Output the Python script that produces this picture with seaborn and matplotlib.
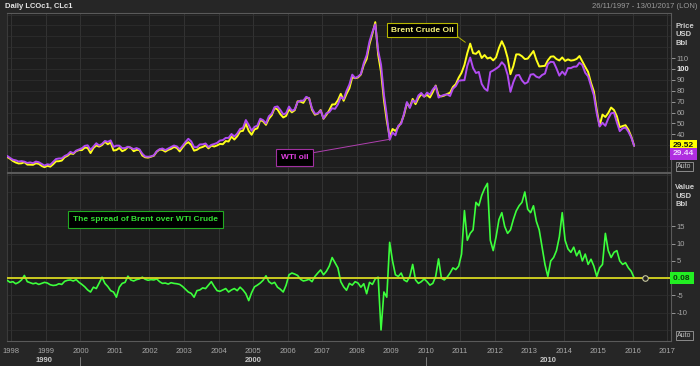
import numpy as np
import pandas as pd
import matplotlib
matplotlib.use("Agg")
import matplotlib.pyplot as plt
import matplotlib.transforms as mtransforms
from matplotlib.ticker import FixedLocator
import seaborn as sns

# ---------------- data (monthly, Nov 1997 .. Jan 2016) ----------------
start_month = "1997-11"

brent = [
    19.2, 17.6,
    15.5, 14.1, 13.2, 13.4, 14.4, 12.2, 12.1, 12.0, 13.4, 12.9, 11.0, 9.8,
    11.1, 10.3, 12.5, 15.2, 15.3, 15.9, 19.0, 20.3, 22.5, 22.0, 24.6, 25.5,
    25.5, 27.8, 27.5, 22.8, 27.4, 29.8, 28.7, 30.1, 33.1, 30.9, 32.5, 25.1,
    25.6, 27.5, 24.5, 25.7, 28.4, 27.7, 24.5, 25.7, 25.6, 20.5, 18.9, 18.6,
    19.4, 20.3, 24.0, 26.0, 25.7, 24.1, 25.7, 26.7, 28.4, 27.5, 24.3, 28.0,
    31.2, 32.8, 30.3, 25.0, 25.8, 27.6, 28.4, 29.8, 27.1, 29.6, 28.8, 29.8,
    31.2, 30.9, 33.8, 33.4, 37.9, 35.2, 38.2, 42.7, 43.2, 49.8, 43.1, 39.6,
    44.5, 45.5, 53.1, 51.9, 48.7, 54.3, 57.5, 64.1, 62.9, 58.5, 55.5, 56.9,
    63.0, 60.2, 62.1, 70.3, 70.0, 68.9, 73.7, 73.2, 62.5, 58.0, 58.9, 62.3,
    54.3, 57.8, 62.1, 67.4, 67.5, 71.3, 77.2, 70.8, 77.1, 82.3, 92.5, 91.5,
    92.2, 94.9, 103.6, 109.1, 122.8, 132.3, 143.0, 113.2, 97.2, 71.6, 52.5, 37.5,
    44.9, 43.1, 46.8, 50.8, 57.9, 68.6, 64.9, 72.5, 67.7, 73.2, 77.0, 74.7,
    76.2, 73.8, 78.8, 84.8, 75.9, 74.8, 75.6, 77.1, 78.2, 83.5, 86.1, 92.0,
    96.5, 103.7, 114.6, 123.3, 114.5, 113.9, 116.5, 110.1, 112.8, 109.6, 110.5, 107.9,
    110.7, 119.3, 125.5, 119.8, 110.3, 95.2, 102.6, 113.4, 113.4, 111.7, 109.1, 109.5,
    112.9, 116.5, 108.5, 102.3, 102.6, 102.9, 107.9, 111.3, 111.6, 109.1, 107.8, 110.6,
    107.4, 108.8, 107.7, 108.1, 109.2, 111.9, 106.9, 101.9, 97.3, 87.3, 79.4, 62.3,
    47.8, 58.1, 55.9, 59.5, 64.6, 62.3, 56.6, 46.5, 47.6, 48.4, 44.3, 38.0,
    29.5,
]

wti = [
    20.2, 18.3,
    16.7, 16.1, 15.0, 15.4, 14.9, 13.7, 14.2, 13.5, 15.0, 14.4, 12.9, 11.3,
    12.5, 12.0, 14.7, 17.3, 17.8, 17.9, 20.1, 21.3, 23.9, 22.6, 25.0, 26.1,
    27.2, 29.4, 29.9, 25.7, 28.8, 31.8, 29.7, 31.2, 33.9, 33.1, 34.4, 28.5,
    29.6, 29.6, 27.2, 27.4, 28.6, 27.6, 26.4, 27.4, 26.2, 22.2, 19.6, 19.4,
    19.7, 20.7, 24.4, 26.3, 27.0, 25.5, 26.9, 28.4, 29.7, 28.9, 26.3, 29.4,
    32.9, 35.9, 33.5, 28.2, 28.1, 30.7, 30.8, 31.6, 28.3, 30.3, 31.1, 32.1,
    34.3, 34.7, 36.7, 36.7, 40.3, 38.0, 40.7, 44.9, 45.9, 53.1, 48.5, 43.3,
    46.8, 48.0, 54.3, 53.0, 50.0, 56.6, 59.0, 65.0, 65.6, 62.3, 58.3, 59.4,
    65.5, 61.6, 62.9, 69.7, 70.9, 70.9, 74.4, 73.0, 63.8, 58.9, 59.1, 62.0,
    54.5, 59.3, 60.4, 63.9, 63.4, 67.5, 74.1, 72.4, 79.9, 85.8, 94.8, 91.7,
    93.0, 95.4, 105.5, 112.6, 125.4, 133.9, 141.0, 116.7, 104.1, 76.6, 57.3, 35.0,
    41.7, 39.1, 47.9, 49.7, 59.0, 69.6, 64.2, 71.1, 69.4, 75.7, 78.0, 74.5,
    78.3, 76.4, 81.2, 84.3, 73.7, 75.3, 76.3, 76.6, 75.2, 81.9, 84.3, 89.2,
    89.6, 89.7, 102.9, 110.5, 100.9, 96.3, 97.3, 86.3, 82.0, 80.0, 97.2, 98.6,
    100.3, 102.2, 106.2, 103.3, 94.7, 79.0, 87.9, 94.1, 94.5, 89.5, 86.5, 87.9,
    94.8, 95.3, 92.9, 92.0, 94.5, 95.8, 104.6, 106.6, 106.3, 100.5, 93.9, 97.6,
    94.6, 100.8, 100.8, 102.1, 102.2, 105.8, 103.6, 96.5, 93.2, 84.4, 75.8, 59.3,
    47.2, 50.6, 47.8, 54.5, 59.3, 59.8, 50.9, 42.9, 45.5, 46.2, 42.4, 37.2,
    29.4,
]

spread = [
    -0.6, -1.2,
    -1.0, -1.6, -1.2, -0.5, 0.8, -1.0, -1.3, -1.6, -1.4, -1.8, -1.5, -1.2,
    -1.4, -1.9, -2.1, -2.0, -1.6, -1.8, -0.9, -0.6, -0.5, -0.8, -0.4, -1.2,
    -1.8, -2.5, -3.4, -4.0, -2.6, -3.0, -1.4, 0.3, -1.5, -2.4, -3.6, -4.0,
    -5.5, -2.6, -1.5, -1.2, 0.6, -0.5, -0.8, -0.4, -0.2, 0.3, -0.3, -0.6,
    -0.4, -0.5, -0.2, -1.0, -1.5, -1.4, -1.7, -1.3, -1.5, -1.6, -1.8, -2.4,
    -3.2, -4.0, -4.4, -5.5, -3.6, -3.4, -2.8, -3.0, -2.0, -1.0, -2.4, -3.6,
    -3.8, -3.4, -3.0, -4.0, -3.4, -3.0, -3.6, -2.6, -3.4, -4.5, -6.5, -4.2,
    -2.5, -2.0, -1.4, -0.6, 0.7, -1.0, -1.6, -1.2, -2.6, -3.2, -4.0, -2.0,
    1.0, 1.5, 1.2, 0.8, -0.3, -0.8, -0.6, -0.3, -1.0, 0.5, 1.5, 2.4,
    1.0, 2.0, 3.5, 6.0, 4.5, 3.0, -1.0, -2.5, -3.5, -1.5, -2.0, -1.0,
    -1.4, -2.6, -1.6, -4.5, -1.2, -1.8, -0.2, 0.3, -15.0, -4.0, -5.5, 10.4,
    5.0, 1.0, 0.5, 1.5, -0.5, -1.0, 0.5, 4.0, -0.5, -1.5, -1.0, -0.2,
    -1.0, -2.0, -1.5, 0.5, 5.6, 0.0, -0.5, 0.3, 1.5, 3.0, 2.5, 3.5,
    7.0, 19.6, 11.0, 13.0, 14.0, 22.0, 21.0, 24.0, 26.0, 27.5, 11.0, 8.0,
    12.0, 17.0, 19.0, 15.0, 13.0, 14.0, 17.0, 19.5, 21.0, 22.0, 25.0, 20.0,
    19.0, 21.0, 16.5, 14.0, 9.0, 4.0, 0.5, 5.0, 6.0, 8.0, 12.0, 19.0,
    11.0, 8.5, 7.5, 9.0, 6.5, 8.0, 5.0, 7.0, 4.0, 5.5, 3.5, 0.5,
    3.0, 4.0, 13.0, 8.0, 6.0, 7.5, 8.0, 5.0, 4.0, 4.5, 3.0, 2.0,
    0.08,
]

year_ticks = list(range(1998, 2018))
decade_labels = ["1990", "2000", "2010"]
decade_centers = [1998.95, 2005.0, 2013.55]
decade_marks = [2000, 2010]
price_ticks = [40, 50, 60, 70, 80, 90, 100, 110]
price_minor = [10, 20, 30, 120, 130, 140, 150]
spread_ticks = [-10, -5, 0, 5, 10, 15]
spread_minor = [-15, 20, 25, 30]
last_brent_label = "29.52"
last_wti_label = "29.44"
last_spread_label = "0.08"

assert len(brent) == len(wti) == len(spread)

months = pd.period_range(start_month, periods=len(brent), freq="M")
dec_year = np.asarray(months.year + (months.month - 0.5) / 12.0, dtype=float)
df = pd.DataFrame({"year": dec_year, "Brent": brent, "WTI": wti, "Spread": spread})

# ---------------- style ----------------
sns.set_style("dark")
plt.rcParams["font.family"] = ["Liberation Sans", "DejaVu Sans"]

BG = "#262626"
AXBG = "#1e1e1e"
GRID = "#303030"
TXT = "#a8a8a8"

W, H = 700, 366
fig = plt.figure(figsize=(7, 3.66), dpi=100, facecolor=BG)


def px_axes(x0, y0, x1, y1):
    return fig.add_axes([x0 / W, 1 - y1 / H, (x1 - x0) / W, (y1 - y0) / H])


ax1 = px_axes(7.3, 13, 671, 172)
ax2 = px_axes(7.3, 173, 671, 341)

for ax in (ax1, ax2):
    ax.set_facecolor(AXBG)
    for s in ax.spines.values():
        s.set_color("#5a5a5a")
        s.set_linewidth(0.8)
    ax.spines["left"].set_color("#3a3a3a")
    ax.set_xlim(1997.88, 2017.11)
    ax.set_xticks(year_ticks)
    ax.grid(True, axis="x", color="#363636", lw=0.6)
    ax.yaxis.tick_right()

# ---------------- top panel ----------------
sns.lineplot(data=df, x="year", y="Brent", ax=ax1, color="#ffff1a", lw=1.4,
             estimator=None, zorder=3)
sns.lineplot(data=df, x="year", y="WTI", ax=ax1, color="#b24cf2", lw=1.4,
             estimator=None, zorder=4)
ax1.set_ylim(5.4, 151.4)
ax1.set_yticks(price_ticks)
ax1.set_yticklabels([str(t) for t in price_ticks])
ax1.yaxis.set_minor_locator(FixedLocator(price_minor))
ax1.grid(True, axis="y", which="both", color=GRID, lw=0.5)
ax1.tick_params(axis="y", which="major", colors=TXT, labelsize=5.5, length=3,
                width=0.6, pad=1)
ax1.tick_params(axis="y", which="minor", length=0)
ax1.tick_params(axis="x", length=0, labelbottom=False)
for lbl in ax1.get_yticklabels():
    if lbl.get_text() == "100":
        lbl.set_fontweight("bold")
        lbl.set_color("#e8e8e8")
ax1.set_xlabel("")
ax1.set_ylabel("")

ax1.annotate("Brent Crude Oil", xy=(2011.15, 124.5), xytext=(2009.9, 135.6),
             ha="center", va="center", fontsize=6, fontweight="bold",
             color="#f6f27a",
             bbox=dict(boxstyle="square,pad=0.45", fc="black", ec="#b8b800", lw=0.8),
             arrowprops=dict(arrowstyle="-", color="#b8b800", lw=0.7,
                             relpos=(1, 0), shrinkA=0, shrinkB=0), zorder=6)
ax1.annotate("WTI oil", xy=(2008.97, 35.5), xytext=(2006.2, 19.1),
             ha="center", va="center", fontsize=6, fontweight="bold",
             color="#e040e0",
             bbox=dict(boxstyle="square,pad=0.6", fc="black", ec="#a030a0", lw=0.8),
             arrowprops=dict(arrowstyle="-", color="#b040b0", lw=0.7,
                             relpos=(1, 1), shrinkA=0, shrinkB=0), zorder=6)

blend1 = mtransforms.blended_transform_factory(ax1.transAxes, ax1.transData)
ax1.text(1.003, brent[-1], last_brent_label, transform=blend1, ha="left",
         va="center", fontsize=6, fontweight="bold", color="#111111",
         bbox=dict(boxstyle="square,pad=0.3", fc="#ffff00", ec="none"),
         clip_on=False, zorder=7)
ax1.annotate(last_wti_label, xy=(1.003, brent[-1]), xycoords=blend1,
             xytext=(0, -5.6), textcoords="offset points", ha="left",
             va="center", fontsize=6, fontweight="bold", color="#f0d8ff",
             bbox=dict(boxstyle="square,pad=0.3", fc="#b02ee0", ec="none"),
             annotation_clip=False, zorder=7)
ax1.text(1.009, 0.012, "Auto", transform=ax1.transAxes, ha="left", va="bottom",
         fontsize=5, color="#c0c0c0",
         bbox=dict(boxstyle="square,pad=0.15", fc=BG, ec="#9a9a9a", lw=0.6),
         clip_on=False)

# ---------------- bottom panel ----------------
sns.lineplot(data=df, x="year", y="Spread", ax=ax2, color="#3cff3c", lw=1.2,
             estimator=None, zorder=3)
ax2.axhline(0, color="#d8d820", lw=1.3, zorder=5)
ax2.plot([2016.35], [0], marker="o", ms=4, mfc="#1e1e1e", mec="#c8c8a0",
         mew=0.8, zorder=6)
ax2.set_ylim(-18.2, 30.5)
ax2.set_yticks(spread_ticks)
ax2.set_yticklabels(["" if t == 0 else str(t) for t in spread_ticks])
ax2.yaxis.set_minor_locator(FixedLocator(spread_minor))
ax2.grid(True, axis="y", which="both", color=GRID, lw=0.5)
ax2.tick_params(axis="y", which="major", colors=TXT, labelsize=5.5, length=3,
                width=0.6, pad=1)
ax2.tick_params(axis="y", which="minor", length=0)
ax2.set_xticklabels([str(y) for y in year_ticks])
ax2.tick_params(axis="x", length=0, colors=TXT, labelsize=5.5, pad=5)
ax2.set_xlabel("")
ax2.set_ylabel("")

ax2.annotate("The spread of Brent over WTI Crude", xy=(2001.88, 17.0),
             ha="center", va="center", fontsize=6, fontweight="bold",
             color="#33dd33",
             bbox=dict(boxstyle="square,pad=0.6", fc="black", ec="#22aa22", lw=0.8),
             zorder=6)

blend2 = mtransforms.blended_transform_factory(ax2.transAxes, ax2.transData)
ax2.text(1.003, 0, last_spread_label + " ", transform=blend2, ha="left",
         va="center", fontsize=6, fontweight="bold", color="#0c3a0c",
         bbox=dict(boxstyle="square,pad=0.3", fc="#22ee22", ec="none"),
         clip_on=False, zorder=7)
ax2.text(1.009, 0.012, "Auto", transform=ax2.transAxes, ha="left", va="bottom",
         fontsize=5, color="#c0c0c0",
         bbox=dict(boxstyle="square,pad=0.15", fc=BG, ec="#9a9a9a", lw=0.6),
         clip_on=False)

blendx = mtransforms.blended_transform_factory(ax2.transData, ax2.transAxes)
for lab, c in zip(decade_labels, decade_centers):
    ax2.text(c, -0.119, lab, transform=blendx, ha="center", va="center",
             fontsize=5.5, fontweight="bold", color="#c8c8c8", clip_on=False)
for d in decade_marks:
    ax2.plot([d, d], [-0.098, -0.15], transform=blendx, color="#8a8a8a",
             lw=0.6, clip_on=False)

# ---------------- labels around ----------------
fig.text(675 / W, 1 - 23 / H, "Price\nUSD\nBbl", ha="left", va="top",
         fontsize=5.5, fontweight="bold", color="#cfcfcf", linespacing=1.3)
fig.text(675 / W, 1 - 184 / H, "Value\nUSD\nBbl", ha="left", va="top",
         fontsize=5.5, fontweight="bold", color="#cfcfcf", linespacing=1.3)
fig.text(5 / W, 1 - 6.5 / H, "Daily LCOc1, CLc1", ha="left", va="center",
         fontsize=5.5, fontweight="bold", color="#e6e6e6")
fig.text(697 / W, 1 - 6.5 / H, "26/11/1997 - 13/01/2017 (LON)", ha="right",
         va="center", fontsize=5.5, color="#9a9a9a")

fig.savefig("out.png", dpi=100, facecolor=BG)
